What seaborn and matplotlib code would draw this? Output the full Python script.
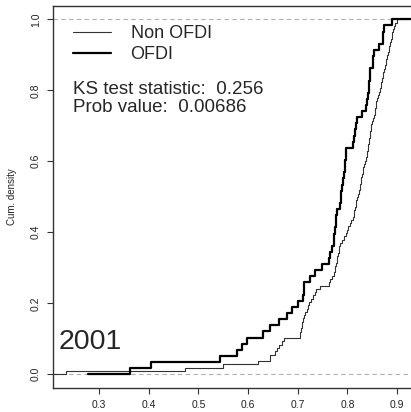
import numpy as np
import pandas as pd
import matplotlib
matplotlib.use("Agg")
import matplotlib.pyplot as plt
import seaborn as sns

sns.set_style("white")
plt.rcParams['font.family'] = ['Liberation Sans', 'DejaVu Sans']

# ---- data (sample values read from the ECDF steps) ----
non_ofdi = [
    0.234, 0.473, 0.549, 0.621, 0.644, 0.645, 0.654, 0.659, 0.662, 0.668,
    0.672, 0.704, 0.705, 0.707, 0.708, 0.709, 0.710, 0.713, 0.715, 0.718,
    0.720, 0.722, 0.727, 0.731, 0.734, 0.736, 0.744, 0.762, 0.765, 0.769,
    0.772, 0.774, 0.775, 0.777, 0.779, 0.780, 0.782, 0.783, 0.784, 0.785,
    0.790, 0.794, 0.798, 0.800, 0.802, 0.805, 0.808, 0.811, 0.813, 0.814,
    0.815, 0.817, 0.818, 0.819, 0.821, 0.824, 0.825, 0.826, 0.827, 0.828,
    0.829, 0.831, 0.832, 0.834, 0.836, 0.837, 0.839, 0.840, 0.841, 0.842,
    0.843, 0.844, 0.845, 0.846, 0.847, 0.848, 0.849, 0.851, 0.853, 0.855,
    0.856, 0.857, 0.858, 0.860, 0.862, 0.864, 0.866, 0.867, 0.868, 0.870,
    0.871, 0.872, 0.874, 0.875, 0.877, 0.878, 0.880, 0.881, 0.883, 0.884,
    0.886, 0.887, 0.889, 0.890, 0.892, 0.894, 0.896, 0.900,
]
ofdi = [
    0.363, 0.404, 0.544, 0.578, 0.587, 0.597, 0.631, 0.644, 0.663, 0.679,
    0.689, 0.701, 0.711, 0.712, 0.713, 0.725, 0.735, 0.749, 0.762, 0.764,
    0.768, 0.772, 0.773, 0.775, 0.776, 0.778, 0.779, 0.786, 0.787, 0.788,
    0.790, 0.791, 0.793, 0.795, 0.796, 0.797, 0.798, 0.812, 0.814, 0.816,
    0.818, 0.819, 0.829, 0.837, 0.839, 0.841, 0.8425, 0.844, 0.845, 0.846,
    0.851, 0.852, 0.853, 0.864, 0.871, 0.872, 0.873, 0.889,
]
series_names = ["Non OFDI", "OFDI"]
ks_stat = 0.256
p_value = 0.00686
year_label = "2001"
x_ticks = [0.3, 0.4, 0.5, 0.6, 0.7, 0.8, 0.9]
y_ticks = [0.0, 0.2, 0.4, 0.6, 0.8, 1.0]


def ecdf_frame(values, name):
    v = np.sort(np.asarray(values, dtype=float))
    n = len(v)
    ext = 0.16 * (v.max() - v.min())
    xs = np.r_[v.min() - ext, v, v.max() + ext]
    ys = np.r_[0.0, np.arange(1, n + 1) / n, 1.0]
    return pd.DataFrame({"x": xs, "F": ys, "group": name})


fig = plt.figure(figsize=(4.11, 4.12), dpi=100)
ax = fig.add_axes([53.3 / 411, (412 - 388.3) / 412, (414 - 53.3) / 411, (388.3 - 5.7) / 412])

# dashed reference lines
for h in (0.0, 1.0):
    ax.axhline(h, color="#b0b0b0", lw=0.8, ls=(0, (4, 3)), zorder=1)

styles = {"Non OFDI": dict(color="#333333", lw=0.8), "OFDI": dict(color="black", lw=1.6)}
for vals, name in zip([non_ofdi, ofdi], series_names):
    df = ecdf_frame(vals, name)
    sns.lineplot(data=df, x="x", y="F", estimator=None, sort=False, ax=ax,
                 drawstyle="steps-post", label=name, zorder=3, **styles[name])

ax.set_xlim(0.208, 0.934)
ax.set_ylim(-0.0394, 1.0383)
ax.set_xticks(x_ticks)
ax.set_xticklabels([f"{t:.1f}" for t in x_ticks])
ax.set_yticks(y_ticks)
ax.set_yticklabels([f"{t:.1f}" for t in y_ticks], rotation=90, va="center")
ax.tick_params(axis="both", direction="out", length=4, width=0.8, color="#333333",
               labelsize=7.5, labelcolor="#222222", left=True, bottom=True)
ax.tick_params(axis="x", pad=4.5)
ax.tick_params(axis="y", pad=5)
ax.set_xlabel("")
ax.set_ylabel("Cum. density", fontsize=7, color="#222222", labelpad=10)

for side in ("left", "top", "bottom"):
    ax.spines[side].set_visible(True)
    ax.spines[side].set_color("#333333")
    ax.spines[side].set_linewidth(1.0)
ax.spines["right"].set_visible(False)

leg = ax.legend(loc="upper left", bbox_to_anchor=(0.054, 0.949), frameon=False,
                fontsize=13, handlelength=2.1, handletextpad=1.1, labelspacing=0.2,
                borderpad=0, borderaxespad=0)

ax.text(0.2477, 0.789, f"KS test statistic:  {ks_stat}", fontsize=13.5,
        va="baseline", ha="left")
ax.text(0.2477, 0.740, f"Prob value:  {p_value}", fontsize=13.5,
        va="baseline", ha="left")
ax.text(0.218, 0.0704, year_label, fontsize=20.5, va="baseline", ha="left")

fig.savefig("out.png", dpi=100)
